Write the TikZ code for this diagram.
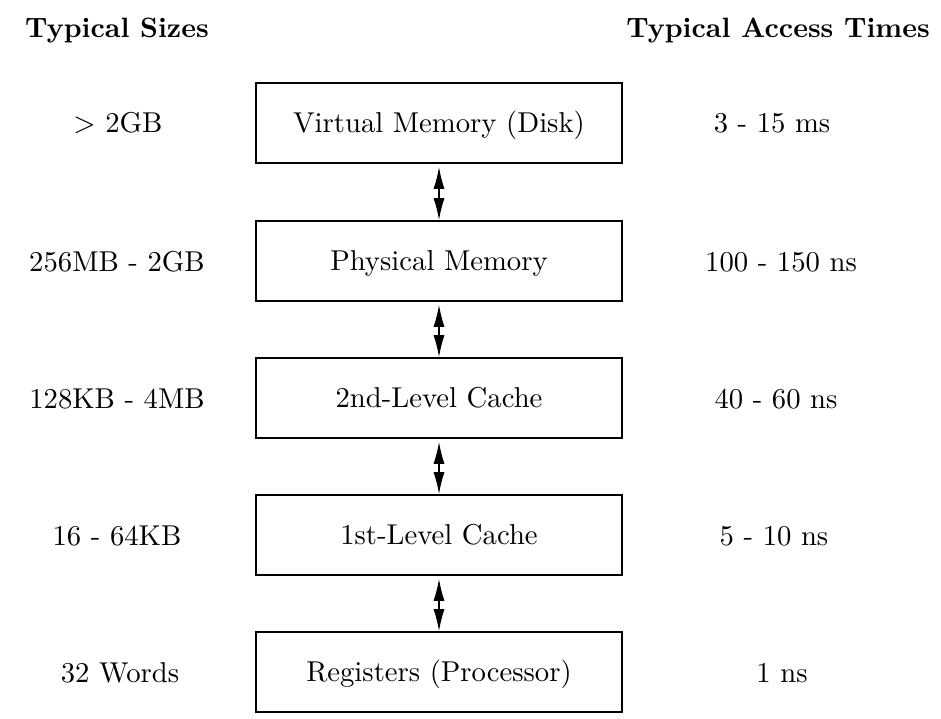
\documentclass[tikz,border=0pt]{standalone}
\usepackage{fontspec}
\setmainfont{lmroman10-regular.otf}[BoldFont=lmroman10-bold.otf]
\usetikzlibrary{arrows.meta}
\begin{document}
\begin{tikzpicture}[x=1pt,y=-1pt,
  memblock/.style={draw, line width=1.6pt, minimum width=366pt, minimum height=80pt, inner sep=0pt,
    text height=19.5pt, text depth=0pt, font=\fontsize{28.7}{34}\selectfont},
  lbl/.style={anchor=base, inner sep=0pt, font=\fontsize{28.7}{34}\selectfont},
  hdr/.style={anchor=base, inner sep=0pt, font=\fontsize{28}{34}\selectfont\bfseries},
  link/.style={line width=1.4pt, {Latex[length=22pt,width=11pt]}-{Latex[length=22pt,width=11pt]}, shorten <=3pt}
]
\useasboundingbox (0,0) rectangle (941,719);

\node[hdr] (hs) at (117,38) {Typical Sizes};
\node[hdr] (ht) at (778,38) {Typical Access Times};

\node[memblock] (b1) at (439,123) {Virtual Memory (Disk)};
\node[memblock] (b2) at (439,261) {Physical Memory};
\node[memblock] (b3) at (439,398) {2nd-Level Cache};
\node[memblock] (b4) at (439,535) {1st-Level Cache};
\node[memblock] (b5) at (439,672) {Registers (Processor)};

\node[lbl] (s1) at (118,133) {> 2GB};
\node[lbl] (s2) at (117,271) {256MB - 2GB};
\node[lbl] (s3) at (117,408) {128KB - 4MB};
\node[lbl] (s4) at (117,545) {16 - 64KB};
\node[lbl] (s5) at (120,682) {32 Words};

\node[lbl] (t1) at (772,133) {3 - 15 ms};
\node[lbl] (t2) at (781,271) {100 - 150 ns};
\node[lbl] (t3) at (776,408) {40 - 60 ns};
\node[lbl] (t4) at (774,545) {5 - 10 ns};
\node[lbl] (t5) at (782,682) {1 ns};

\draw[link] (b1.south) -- (b2.north);
\draw[link] (b2.south) -- (b3.north);
\draw[link] (b3.south) -- (b4.north);
\draw[link] (b4.south) -- (b5.north);
\end{tikzpicture}
\end{document}
